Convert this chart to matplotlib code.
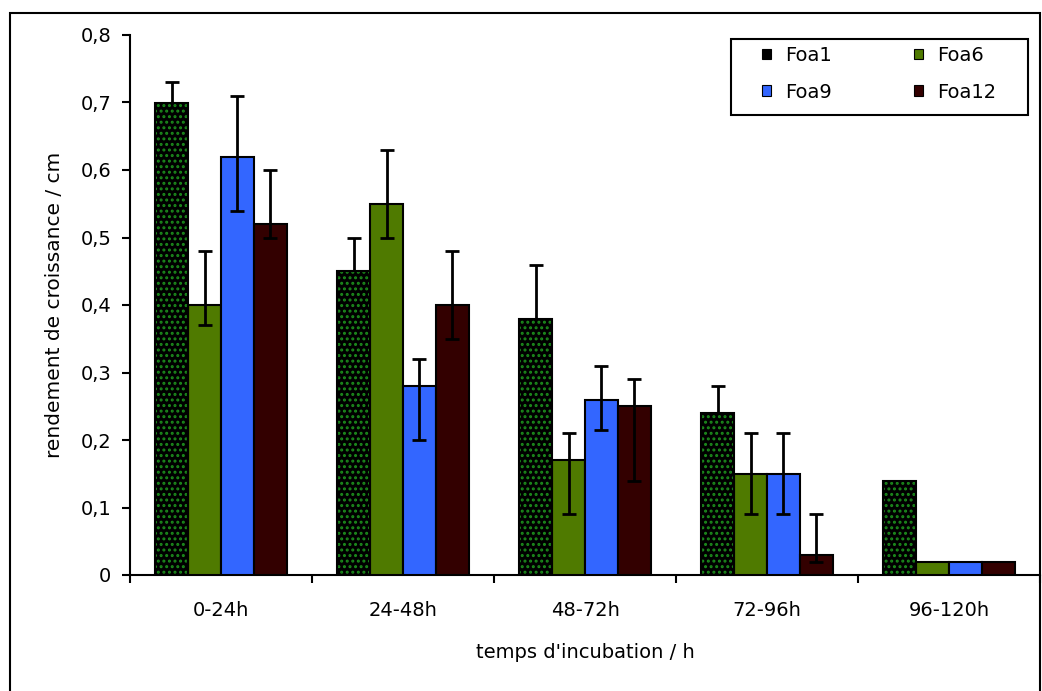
"""Rendement de croissance des souches Foa par intervalle d'incubation."""
import numpy as np
import matplotlib
matplotlib.use('Agg')
import matplotlib.pyplot as plt
from matplotlib.patches import Patch, Rectangle

plt.rcParams['font.family'] = ['DejaVu Sans']
plt.rcParams['hatch.linewidth'] = 1.4

categories = ['0-24h', '24-48h', '48-72h', '72-96h', '96-120h']
series = ['Foa1', 'Foa6', 'Foa9', 'Foa12']

foa1 = [0.70, 0.45, 0.38, 0.24, 0.14]
foa6 = [0.40, 0.55, 0.17, 0.15, 0.02]
foa9 = [0.62, 0.28, 0.26, 0.15, 0.02]
foa12 = [0.52, 0.40, 0.25, 0.03, 0.02]

# error bars (lower, upper)
foa1_err_lo = [0.03, 0.05, 0.08, 0.04, 0.0]
foa1_err_hi = [0.03, 0.05, 0.08, 0.04, 0.0]
foa6_err_lo = [0.03, 0.05, 0.08, 0.06, 0.0]
foa6_err_hi = [0.08, 0.08, 0.04, 0.06, 0.0]
foa9_err_lo = [0.08, 0.08, 0.045, 0.06, 0.0]
foa9_err_hi = [0.09, 0.04, 0.05, 0.06, 0.0]
foa12_err_lo = [0.02, 0.05, 0.11, 0.01, 0.0]
foa12_err_hi = [0.08, 0.08, 0.04, 0.06, 0.0]

values = [foa1, foa6, foa9, foa12]
err_lo = [foa1_err_lo, foa6_err_lo, foa9_err_lo, foa12_err_lo]
err_hi = [foa1_err_hi, foa6_err_hi, foa9_err_hi, foa12_err_hi]
colors = ['#000000', '#4f7a00', '#3366ff', '#330000']

FS = 14

fig = plt.figure(figsize=(10.42, 6.91), dpi=100)
ax = fig.add_axes([130 / 1042, 1 - 575 / 691, 910 / 1042, 540 / 691])

x = np.arange(len(categories))
width = 0.18
for i, (name, vals) in enumerate(zip(series, values)):
    pos = x + (i - 1.5) * width
    if i == 0:
        # dark bar with green speckle texture
        ax.bar(pos, vals, width, color='#000000', hatch='...', edgecolor='#1c8a1c',
               linewidth=0, zorder=3)
        ax.bar(pos, vals, width, facecolor='none', edgecolor='black', linewidth=1.5, zorder=4)
    else:
        ax.bar(pos, vals, width, color=colors[i], edgecolor='black', linewidth=1.5, zorder=3)
    lo = np.array(err_lo[i])
    hi = np.array(err_hi[i])
    keep = (lo + hi) > 0
    ax.errorbar(pos[keep], np.array(vals)[keep], yerr=[lo[keep], hi[keep]], fmt='none',
                ecolor='black', elinewidth=2, capsize=4.7, capthick=2,
                zorder=2 if i == 0 else 5)

ax.set_xlim(-0.5, len(categories) - 0.5)
ax.set_ylim(0, 0.8)
ax.set_yticks(np.arange(0, 0.81, 0.1))
ax.set_yticklabels(['0'] + [f'{v:.1f}'.replace('.', ',') for v in np.arange(0.1, 0.81, 0.1)])

ax.set_xticks(np.arange(-0.5, len(categories) - 0.4, 1.0))
ax.set_xticklabels([])
ax.set_xticks(x, minor=True)
ax.set_xticklabels(categories, minor=True)
ax.tick_params(axis='x', which='minor', length=0, pad=19, labelsize=FS)
ax.tick_params(axis='x', which='major', length=5.5, width=1.5, direction='out')
ax.tick_params(axis='y', length=5.5, width=1.5, direction='out', pad=8, labelsize=FS)

for s in ['top', 'right']:
    ax.spines[s].set_visible(False)
for s in ['left', 'bottom']:
    ax.spines[s].set_linewidth(1.5)

ax.set_ylabel('rendement de croissance / cm', fontsize=FS + 0.5)
ax.yaxis.set_label_coords((64 - 130) / 910, 0.5)
ax.set_xlabel("temps d'incubation / h", fontsize=FS)
ax.xaxis.set_label_coords(0.5, (575 - 643) / 540)

# legend: frame drawn separately, entries placed inside it
ax.add_patch(Rectangle(((731 - 130) / 910, (575 - 115) / 540), 297 / 910, 76 / 540,
                       transform=ax.transAxes, fill=False, edgecolor='black',
                       linewidth=1.5, clip_on=False, zorder=6))
handles = [Patch(facecolor=c, edgecolor='black', linewidth=0.8) for c in colors]
order = [0, 2, 1, 3]
ax.legend([handles[k] for k in order], [series[k] for k in order], ncol=2,
          loc='upper left', bbox_to_anchor=((762 - 130) / 910, (575 - 46) / 540),
          frameon=False, fontsize=FS, handlelength=0.45, handleheight=0.45,
          handletextpad=0.75, columnspacing=4.2, labelspacing=0.9,
          borderaxespad=0, borderpad=0)

fig.patches.append(Rectangle((10 / 1042, -0.05), 1030 / 1042, 1.05 - 13 / 691,
                             transform=fig.transFigure, fill=False,
                             edgecolor='black', linewidth=1.5))

fig.savefig('out.png', dpi=100)
